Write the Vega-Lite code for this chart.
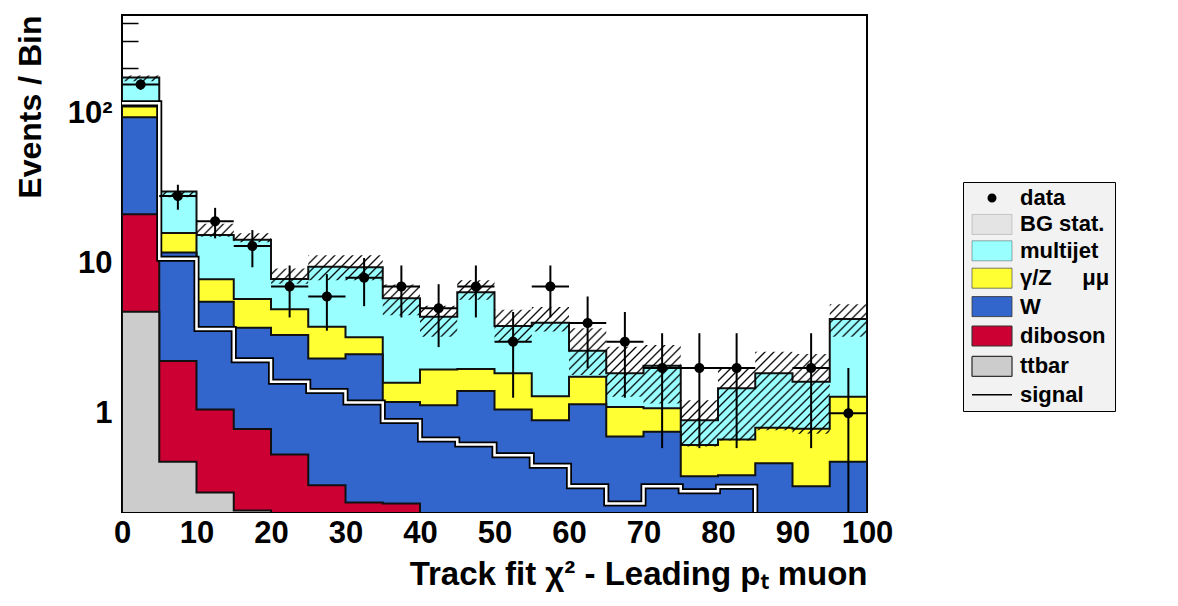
{
"$schema": "https://vega.github.io/schema/vega-lite/v6.json",
"width": 745, "height": 497,
"autosize": {"type": "none"},
"padding": {"left": 122, "top": 15, "right": 311, "bottom": 94},
"background": "white",
"config": {
  "view": {"stroke": "black", "strokeWidth": 2},
  "font": "Liberation Sans",
  "axis": {"grid": false, "domain": false, "labelFont": "Liberation Sans", "labelFontWeight": "bold", "labelFontSize": 31, "labelColor": "black", "titleFont": "Liberation Sans", "titleFontWeight": "bold", "titleFontSize": 32, "titleColor": "black"},
  "legend": {"orient": "none", "legendX": 841, "legendY": 167, "direction": "vertical", "padding": 5, "fillColor": "#f2f2f2", "strokeColor": "black", "labelFont": "Liberation Sans", "labelFontWeight": "bold", "labelFontSize": 22, "labelColor": "black", "labelOffset": 17, "rowPadding": 4.4, "labelLimit": 500, "symbolType": "M-2,-1H2V1H-2Z", "symbolSize": 400, "symbolOffset": 13, "symbolOpacity": 1}
},
"datasets": {
  "stack": [
    {"x0":0,"ttbar":4.75,"diboson":21.2,"W":93.9,"gz":110.5,"multijet":172.5,"signal":116.4,"bglo":163,"bghi":178},
    {"x0":5,"ttbar":0.475,"diboson":2.23,"W":11.8,"gz":15.9,"multijet":30.0,"signal":10.7,"bglo":27.5,"bghi":30.3},
    {"x0":10,"ttbar":0.297,"diboson":1.06,"W":5.54,"gz":7.81,"multijet":15.4,"signal":3.64,"bglo":15.0,"bghi":18.3},
    {"x0":15,"ttbar":0.225,"diboson":0.785,"W":3.72,"gz":5.77,"multijet":14.3,"signal":2.26,"bglo":13.8,"bghi":15.8},
    {"x0":20,"ttbar":0.01,"diboson":0.532,"W":3.32,"gz":4.93,"multijet":7.85,"signal":1.62,"bglo":7.3,"bghi":9.2},
    {"x0":25,"ttbar":0.01,"diboson":0.332,"W":2.32,"gz":3.77,"multijet":9.48,"signal":1.41,"bglo":7.7,"bghi":11.3},
    {"x0":30,"ttbar":0.01,"diboson":0.255,"W":2.47,"gz":3.21,"multijet":9.4,"signal":1.18,"bglo":7.7,"bghi":11.3},
    {"x0":35,"ttbar":0.01,"diboson":0.251,"W":1.19,"gz":1.60,"multijet":5.83,"signal":0.887,"bglo":4.5,"bghi":7.2},
    {"x0":40,"ttbar":0.01,"diboson":0.01,"W":1.13,"gz":1.96,"multijet":4.40,"signal":0.67,"bglo":3.23,"bghi":5.2},
    {"x0":45,"ttbar":0.01,"diboson":0.01,"W":1.41,"gz":1.97,"multijet":6.40,"signal":0.62,"bglo":5.7,"bghi":7.7},
    {"x0":50,"ttbar":0.01,"diboson":0.01,"W":1.06,"gz":1.85,"multijet":3.81,"signal":0.526,"bglo":3.0,"bghi":4.9},
    {"x0":55,"ttbar":0.01,"diboson":0.01,"W":0.90,"gz":1.30,"multijet":4.01,"signal":0.447,"bglo":3.5,"bghi":5.1},
    {"x0":60,"ttbar":0.01,"diboson":0.01,"W":1.15,"gz":1.75,"multijet":2.61,"signal":0.326,"bglo":1.80,"bghi":3.68},
    {"x0":65,"ttbar":0.01,"diboson":0.01,"W":0.70,"gz":1.10,"multijet":1.85,"signal":0.251,"bglo":1.29,"bghi":2.78},
    {"x0":70,"ttbar":0.01,"diboson":0.01,"W":0.753,"gz":1.08,"multijet":2.07,"signal":0.327,"bglo":1.16,"bghi":2.85},
    {"x0":75,"ttbar":0.01,"diboson":0.01,"W":0.381,"gz":0.614,"multijet":0.90,"signal":0.303,"bglo":0.60,"bghi":1.22},
    {"x0":80,"ttbar":0.01,"diboson":0.01,"W":0.387,"gz":0.67,"multijet":1.47,"signal":0.324,"bglo":0.66,"bghi":1.99},
    {"x0":85,"ttbar":0.01,"diboson":0.01,"W":0.464,"gz":0.80,"multijet":1.85,"signal":0.01,"bglo":0.77,"bghi":2.57},
    {"x0":90,"ttbar":0.01,"diboson":0.01,"W":0.327,"gz":0.79,"multijet":1.62,"signal":0.01,"bglo":0.73,"bghi":2.48},
    {"x0":95,"ttbar":0.01,"diboson":0.01,"W":0.475,"gz":1.29,"multijet":4.25,"signal":0.01,"bglo":3.23,"bghi":5.33},
    {"x0":100,"ttbar":0.01,"diboson":0.01,"W":0.475,"gz":1.29,"multijet":4.25,"signal":0.01,"bglo":3.23,"bghi":5.33}
  ],
  "obs": [
    {"xc":2.5,"x0":0,"x1":5,"n":155,"lo":142.5,"hi":167.5},
    {"xc":7.5,"x0":5,"x1":10,"n":28,"lo":22.7,"hi":33.3},
    {"xc":12.5,"x0":10,"x1":15,"n":19,"lo":14.64,"hi":23.36},
    {"xc":17.5,"x0":15,"x1":20,"n":13,"lo":9.39,"hi":16.61},
    {"xc":22.5,"x0":20,"x1":25,"n":7,"lo":4.35,"hi":9.65},
    {"xc":27.5,"x0":25,"x1":30,"n":6,"lo":3.55,"hi":8.45},
    {"xc":32.5,"x0":30,"x1":35,"n":8,"lo":5.17,"hi":10.83},
    {"xc":37.5,"x0":35,"x1":40,"n":7,"lo":4.35,"hi":9.65},
    {"xc":42.5,"x0":40,"x1":45,"n":5,"lo":2.76,"hi":7.24},
    {"xc":47.5,"x0":45,"x1":50,"n":7,"lo":4.35,"hi":9.65},
    {"xc":52.5,"x0":50,"x1":55,"n":3,"lo":1.27,"hi":4.73},
    {"xc":57.5,"x0":55,"x1":60,"n":7,"lo":4.35,"hi":9.65},
    {"xc":62.5,"x0":60,"x1":65,"n":4,"lo":2,"hi":6},
    {"xc":67.5,"x0":65,"x1":70,"n":3,"lo":1.27,"hi":4.73},
    {"xc":72.5,"x0":70,"x1":75,"n":2,"lo":0.586,"hi":3.414},
    {"xc":77.5,"x0":75,"x1":80,"n":2,"lo":0.586,"hi":3.414},
    {"xc":82.5,"x0":80,"x1":85,"n":2,"lo":0.586,"hi":3.414},
    {"xc":92.5,"x0":90,"x1":95,"n":2,"lo":0.586,"hi":3.414},
    {"xc":97.5,"x0":95,"x1":100,"n":1,"lo":0.001,"hi":2}
  ]
},
"layer": [
  {
    "data": {"name": "stack"},
    "mark": {"type": "area", "interpolate": "step-after", "clip": true, "stroke": "#111", "strokeWidth": 2, "fillOpacity": 1},
    "encoding": {
      "x": {"field": "x0", "type": "quantitative", "scale": {"domain": [0, 100], "nice": false, "zero": false},
        "axis": {"values": [0,10,20,30,40,50,60,70,80,90,100], "ticks": false, "labelPadding": 6, "labelFlush": false, "labelOverlap": false, "title": "Track fit χ² - Leading pₜ muon", "titleAnchor": "end", "titlePadding": 10, "titleFontSize": 33}},
      "y": {"field": "multijet", "type": "quantitative", "scale": {"type": "log", "domain": [0.22, 450], "nice": false},
        "axis": {"values": [0.3,0.4,0.5,0.6,0.7,0.8,0.9,1,2,3,4,5,6,7,8,9,10,20,30,40,50,60,70,80,90,100,200,300,400], "labelExpr": "datum.value == 1 ? '1' : datum.value == 10 ? '10' : datum.value == 100 ? '10²' : ''", "tickSize": -16, "tickColor": "black", "tickWidth": 1.5, "labelPadding": 26, "labelOverlap": false, "title": "Events / Bin", "titleAnchor": "end", "titlePadding": 20}},
      "y2": {"datum": 0.01},
      "color": {"datum": "multijet", "type": "nominal",
        "scale": {"domain": ["data", "BG stat.\u00a0\u00a0\u00a0\u00a0\u00a0\u00a0\u00a0\u00a0\u00a0\u00a0\u00a0\u00a0\u00a0\u00a0", "multijet", "γ/Z\u00a0\u00a0\u00a0\u00a0\u00a0μμ", "W", "diboson", "ttbar", "signal"],
                  "range": ["black", "#e4e4e4", "#99ffff", "#ffff33", "#3366cc", "#cc0033", "#cccccc", "transparent"]},
        "legend": {"title": null}
      }
    }
  },
  {
    "data": {"name": "stack"},
    "mark": {"type": "area", "interpolate": "step-after", "clip": true, "fill": "#ffff33", "stroke": "#111", "strokeWidth": 2, "fillOpacity": 1},
    "encoding": {
      "x": {"field": "x0", "type": "quantitative"},
      "y": {"field": "gz", "type": "quantitative"},
      "y2": {"datum": 0.01}
    }
  },
  {
    "data": {"name": "stack"},
    "mark": {"type": "area", "interpolate": "step-after", "clip": true, "fill": "#3366cc", "stroke": "#111", "strokeWidth": 2, "fillOpacity": 1},
    "encoding": {
      "x": {"field": "x0", "type": "quantitative"},
      "y": {"field": "W", "type": "quantitative"},
      "y2": {"datum": 0.01}
    }
  },
  {
    "data": {"name": "stack"},
    "mark": {"type": "area", "interpolate": "step-after", "clip": true, "fill": "#cc0033", "stroke": "#111", "strokeWidth": 2, "fillOpacity": 1},
    "encoding": {
      "x": {"field": "x0", "type": "quantitative"},
      "y": {"field": "diboson", "type": "quantitative"},
      "y2": {"datum": 0.01}
    }
  },
  {
    "data": {"name": "stack"},
    "mark": {"type": "area", "interpolate": "step-after", "clip": true, "fill": "#cccccc", "stroke": "#111", "strokeWidth": 2, "fillOpacity": 1},
    "encoding": {
      "x": {"field": "x0", "type": "quantitative"},
      "y": {"field": "ttbar", "type": "quantitative"},
      "y2": {"datum": 0.01}
    }
  },
  {
    "data": {"name": "stack"},
    "mark": {"type": "line", "interpolate": "step-after", "clip": true, "strokeWidth": 6},
    "encoding": {
      "x": {"field": "x0", "type": "quantitative"},
      "y": {"field": "signal", "type": "quantitative"},
      "stroke": {"datum": "signal", "type": "nominal",
        "scale": {"domain": ["data", "BG stat.\u00a0\u00a0\u00a0\u00a0\u00a0\u00a0\u00a0\u00a0\u00a0\u00a0\u00a0\u00a0\u00a0\u00a0", "multijet", "γ/Z\u00a0\u00a0\u00a0\u00a0\u00a0μμ", "W", "diboson", "ttbar", "signal"],
                  "range": ["transparent", "#333333", "#333333", "#333333", "#333333", "#333333", "#333333", "black"]},
        "legend": {"title": null}
      },
      "strokeDash": {"datum": "signal", "type": "nominal",
        "scale": {"domain": ["data", "BG stat.\u00a0\u00a0\u00a0\u00a0\u00a0\u00a0\u00a0\u00a0\u00a0\u00a0\u00a0\u00a0\u00a0\u00a0", "multijet", "γ/Z\u00a0\u00a0\u00a0\u00a0\u00a0μμ", "W", "diboson", "ttbar", "signal"],
                  "range": [[1,0],[1,0],[1,0],[1,0],[1,0],[1,0],[1,0],[1,0]]},
        "legend": {"title": null}
      }
    }
  },
  {
    "data": {"name": "stack"},
    "mark": {"type": "line", "interpolate": "step-after", "clip": true, "stroke": "white", "strokeWidth": 2.5},
    "encoding": {
      "x": {"field": "x0", "type": "quantitative"},
      "y": {"field": "signal", "type": "quantitative"}
    }
  },
  {
    "data": {"name": "stack"},
    "mark": {"type": "area", "interpolate": "step-after", "clip": true, "strokeWidth": 0,
      "fill": {"gradient": "linear", "x1": 0, "y1": 0, "x2": 1.2, "y2": 0.598, "stops": [
{"offset":0,"color":"#000"},{"offset":0.0016,"color":"transparent"},{"offset":0.0064,"color":"transparent"},
{"offset":0.008,"color":"#000"},{"offset":0.0096,"color":"transparent"},{"offset":0.0144,"color":"transparent"},
{"offset":0.016,"color":"#000"},{"offset":0.0176,"color":"transparent"},{"offset":0.0224,"color":"transparent"},
{"offset":0.024,"color":"#000"},{"offset":0.0256,"color":"transparent"},{"offset":0.0304,"color":"transparent"},
{"offset":0.032,"color":"#000"},{"offset":0.0336,"color":"transparent"},{"offset":0.0384,"color":"transparent"},
{"offset":0.04,"color":"#000"},{"offset":0.0416,"color":"transparent"},{"offset":0.0464,"color":"transparent"},
{"offset":0.048,"color":"#000"},{"offset":0.0496,"color":"transparent"},{"offset":0.0544,"color":"transparent"},
{"offset":0.056,"color":"#000"},{"offset":0.0576,"color":"transparent"},{"offset":0.0624,"color":"transparent"},
{"offset":0.064,"color":"#000"},{"offset":0.0656,"color":"transparent"},{"offset":0.0704,"color":"transparent"},
{"offset":0.072,"color":"#000"},{"offset":0.0736,"color":"transparent"},{"offset":0.0784,"color":"transparent"},
{"offset":0.08,"color":"#000"},{"offset":0.0816,"color":"transparent"},{"offset":0.0864,"color":"transparent"},
{"offset":0.088,"color":"#000"},{"offset":0.0896,"color":"transparent"},{"offset":0.0944,"color":"transparent"},
{"offset":0.096,"color":"#000"},{"offset":0.0976,"color":"transparent"},{"offset":0.1024,"color":"transparent"},
{"offset":0.104,"color":"#000"},{"offset":0.1056,"color":"transparent"},{"offset":0.1104,"color":"transparent"},
{"offset":0.112,"color":"#000"},{"offset":0.1136,"color":"transparent"},{"offset":0.1184,"color":"transparent"},
{"offset":0.12,"color":"#000"},{"offset":0.1216,"color":"transparent"},{"offset":0.1264,"color":"transparent"},
{"offset":0.128,"color":"#000"},{"offset":0.1296,"color":"transparent"},{"offset":0.1344,"color":"transparent"},
{"offset":0.136,"color":"#000"},{"offset":0.1376,"color":"transparent"},{"offset":0.1424,"color":"transparent"},
{"offset":0.144,"color":"#000"},{"offset":0.1456,"color":"transparent"},{"offset":0.1504,"color":"transparent"},
{"offset":0.152,"color":"#000"},{"offset":0.1536,"color":"transparent"},{"offset":0.1584,"color":"transparent"},
{"offset":0.16,"color":"#000"},{"offset":0.1616,"color":"transparent"},{"offset":0.1664,"color":"transparent"},
{"offset":0.168,"color":"#000"},{"offset":0.1696,"color":"transparent"},{"offset":0.1744,"color":"transparent"},
{"offset":0.176,"color":"#000"},{"offset":0.1776,"color":"transparent"},{"offset":0.1824,"color":"transparent"},
{"offset":0.184,"color":"#000"},{"offset":0.1856,"color":"transparent"},{"offset":0.1904,"color":"transparent"},
{"offset":0.192,"color":"#000"},{"offset":0.1936,"color":"transparent"},{"offset":0.1984,"color":"transparent"},
{"offset":0.2,"color":"#000"},{"offset":0.2016,"color":"transparent"},{"offset":0.2064,"color":"transparent"},
{"offset":0.208,"color":"#000"},{"offset":0.2096,"color":"transparent"},{"offset":0.2144,"color":"transparent"},
{"offset":0.216,"color":"#000"},{"offset":0.2176,"color":"transparent"},{"offset":0.2224,"color":"transparent"},
{"offset":0.224,"color":"#000"},{"offset":0.2256,"color":"transparent"},{"offset":0.2304,"color":"transparent"},
{"offset":0.232,"color":"#000"},{"offset":0.2336,"color":"transparent"},{"offset":0.2384,"color":"transparent"},
{"offset":0.24,"color":"#000"},{"offset":0.2416,"color":"transparent"},{"offset":0.2464,"color":"transparent"},
{"offset":0.248,"color":"#000"},{"offset":0.2496,"color":"transparent"},{"offset":0.2544,"color":"transparent"},
{"offset":0.256,"color":"#000"},{"offset":0.2576,"color":"transparent"},{"offset":0.2624,"color":"transparent"},
{"offset":0.264,"color":"#000"},{"offset":0.2656,"color":"transparent"},{"offset":0.2704,"color":"transparent"},
{"offset":0.272,"color":"#000"},{"offset":0.2736,"color":"transparent"},{"offset":0.2784,"color":"transparent"},
{"offset":0.28,"color":"#000"},{"offset":0.2816,"color":"transparent"},{"offset":0.2864,"color":"transparent"},
{"offset":0.288,"color":"#000"},{"offset":0.2896,"color":"transparent"},{"offset":0.2944,"color":"transparent"},
{"offset":0.296,"color":"#000"},{"offset":0.2976,"color":"transparent"},{"offset":0.3024,"color":"transparent"},
{"offset":0.304,"color":"#000"},{"offset":0.3056,"color":"transparent"},{"offset":0.3104,"color":"transparent"},
{"offset":0.312,"color":"#000"},{"offset":0.3136,"color":"transparent"},{"offset":0.3184,"color":"transparent"},
{"offset":0.32,"color":"#000"},{"offset":0.3216,"color":"transparent"},{"offset":0.3264,"color":"transparent"},
{"offset":0.328,"color":"#000"},{"offset":0.3296,"color":"transparent"},{"offset":0.3344,"color":"transparent"},
{"offset":0.336,"color":"#000"},{"offset":0.3376,"color":"transparent"},{"offset":0.3424,"color":"transparent"},
{"offset":0.344,"color":"#000"},{"offset":0.3456,"color":"transparent"},{"offset":0.3504,"color":"transparent"},
{"offset":0.352,"color":"#000"},{"offset":0.3536,"color":"transparent"},{"offset":0.3584,"color":"transparent"},
{"offset":0.36,"color":"#000"},{"offset":0.3616,"color":"transparent"},{"offset":0.3664,"color":"transparent"},
{"offset":0.368,"color":"#000"},{"offset":0.3696,"color":"transparent"},{"offset":0.3744,"color":"transparent"},
{"offset":0.376,"color":"#000"},{"offset":0.3776,"color":"transparent"},{"offset":0.3824,"color":"transparent"},
{"offset":0.384,"color":"#000"},{"offset":0.3856,"color":"transparent"},{"offset":0.3904,"color":"transparent"},
{"offset":0.392,"color":"#000"},{"offset":0.3936,"color":"transparent"},{"offset":0.3984,"color":"transparent"},
{"offset":0.4,"color":"#000"},{"offset":0.4016,"color":"transparent"},{"offset":0.4064,"color":"transparent"},
{"offset":0.408,"color":"#000"},{"offset":0.4096,"color":"transparent"},{"offset":0.4144,"color":"transparent"},
{"offset":0.416,"color":"#000"},{"offset":0.4176,"color":"transparent"},{"offset":0.4224,"color":"transparent"},
{"offset":0.424,"color":"#000"},{"offset":0.4256,"color":"transparent"},{"offset":0.4304,"color":"transparent"},
{"offset":0.432,"color":"#000"},{"offset":0.4336,"color":"transparent"},{"offset":0.4384,"color":"transparent"},
{"offset":0.44,"color":"#000"},{"offset":0.4416,"color":"transparent"},{"offset":0.4464,"color":"transparent"},
{"offset":0.448,"color":"#000"},{"offset":0.4496,"color":"transparent"},{"offset":0.4544,"color":"transparent"},
{"offset":0.456,"color":"#000"},{"offset":0.4576,"color":"transparent"},{"offset":0.4624,"color":"transparent"},
{"offset":0.464,"color":"#000"},{"offset":0.4656,"color":"transparent"},{"offset":0.4704,"color":"transparent"},
{"offset":0.472,"color":"#000"},{"offset":0.4736,"color":"transparent"},{"offset":0.4784,"color":"transparent"},
{"offset":0.48,"color":"#000"},{"offset":0.4816,"color":"transparent"},{"offset":0.4864,"color":"transparent"},
{"offset":0.488,"color":"#000"},{"offset":0.4896,"color":"transparent"},{"offset":0.4944,"color":"transparent"},
{"offset":0.496,"color":"#000"},{"offset":0.4976,"color":"transparent"},{"offset":0.5024,"color":"transparent"},
{"offset":0.504,"color":"#000"},{"offset":0.5056,"color":"transparent"},{"offset":0.5104,"color":"transparent"},
{"offset":0.512,"color":"#000"},{"offset":0.5136,"color":"transparent"},{"offset":0.5184,"color":"transparent"},
{"offset":0.52,"color":"#000"},{"offset":0.5216,"color":"transparent"},{"offset":0.5264,"color":"transparent"},
{"offset":0.528,"color":"#000"},{"offset":0.5296,"color":"transparent"},{"offset":0.5344,"color":"transparent"},
{"offset":0.536,"color":"#000"},{"offset":0.5376,"color":"transparent"},{"offset":0.5424,"color":"transparent"},
{"offset":0.544,"color":"#000"},{"offset":0.5456,"color":"transparent"},{"offset":0.5504,"color":"transparent"},
{"offset":0.552,"color":"#000"},{"offset":0.5536,"color":"transparent"},{"offset":0.5584,"color":"transparent"},
{"offset":0.56,"color":"#000"},{"offset":0.5616,"color":"transparent"},{"offset":0.5664,"color":"transparent"},
{"offset":0.568,"color":"#000"},{"offset":0.5696,"color":"transparent"},{"offset":0.5744,"color":"transparent"},
{"offset":0.576,"color":"#000"},{"offset":0.5776,"color":"transparent"},{"offset":0.5824,"color":"transparent"},
{"offset":0.584,"color":"#000"},{"offset":0.5856,"color":"transparent"},{"offset":0.5904,"color":"transparent"},
{"offset":0.592,"color":"#000"},{"offset":0.5936,"color":"transparent"},{"offset":0.5984,"color":"transparent"},
{"offset":0.6,"color":"#000"},{"offset":0.6016,"color":"transparent"},{"offset":0.6064,"color":"transparent"},
{"offset":0.608,"color":"#000"},{"offset":0.6096,"color":"transparent"},{"offset":0.6144,"color":"transparent"},
{"offset":0.616,"color":"#000"},{"offset":0.6176,"color":"transparent"},{"offset":0.6224,"color":"transparent"},
{"offset":0.624,"color":"#000"},{"offset":0.6256,"color":"transparent"},{"offset":0.6304,"color":"transparent"},
{"offset":0.632,"color":"#000"},{"offset":0.6336,"color":"transparent"},{"offset":0.6384,"color":"transparent"},
{"offset":0.64,"color":"#000"},{"offset":0.6416,"color":"transparent"},{"offset":0.6464,"color":"transparent"},
{"offset":0.648,"color":"#000"},{"offset":0.6496,"color":"transparent"},{"offset":0.6544,"color":"transparent"},
{"offset":0.656,"color":"#000"},{"offset":0.6576,"color":"transparent"},{"offset":0.6624,"color":"transparent"},
{"offset":0.664,"color":"#000"},{"offset":0.6656,"color":"transparent"},{"offset":0.6704,"color":"transparent"},
{"offset":0.672,"color":"#000"},{"offset":0.6736,"color":"transparent"},{"offset":0.6784,"color":"transparent"},
{"offset":0.68,"color":"#000"},{"offset":0.6816,"color":"transparent"},{"offset":0.6864,"color":"transparent"},
{"offset":0.688,"color":"#000"},{"offset":0.6896,"color":"transparent"},{"offset":0.6944,"color":"transparent"},
{"offset":0.696,"color":"#000"},{"offset":0.6976,"color":"transparent"},{"offset":0.7024,"color":"transparent"},
{"offset":0.704,"color":"#000"},{"offset":0.7056,"color":"transparent"},{"offset":0.7104,"color":"transparent"},
{"offset":0.712,"color":"#000"},{"offset":0.7136,"color":"transparent"},{"offset":0.7184,"color":"transparent"},
{"offset":0.72,"color":"#000"},{"offset":0.7216,"color":"transparent"},{"offset":0.7264,"color":"transparent"},
{"offset":0.728,"color":"#000"},{"offset":0.7296,"color":"transparent"},{"offset":0.7344,"color":"transparent"},
{"offset":0.736,"color":"#000"},{"offset":0.7376,"color":"transparent"},{"offset":0.7424,"color":"transparent"},
{"offset":0.744,"color":"#000"},{"offset":0.7456,"color":"transparent"},{"offset":0.7504,"color":"transparent"},
{"offset":0.752,"color":"#000"},{"offset":0.7536,"color":"transparent"},{"offset":0.7584,"color":"transparent"},
{"offset":0.76,"color":"#000"},{"offset":0.7616,"color":"transparent"},{"offset":0.7664,"color":"transparent"},
{"offset":0.768,"color":"#000"},{"offset":0.7696,"color":"transparent"},{"offset":0.7744,"color":"transparent"},
{"offset":0.776,"color":"#000"},{"offset":0.7776,"color":"transparent"},{"offset":0.7824,"color":"transparent"},
{"offset":0.784,"color":"#000"},{"offset":0.7856,"color":"transparent"},{"offset":0.7904,"color":"transparent"},
{"offset":0.792,"color":"#000"},{"offset":0.7936,"color":"transparent"},{"offset":0.7984,"color":"transparent"},
{"offset":0.8,"color":"#000"},{"offset":0.8016,"color":"transparent"},{"offset":0.8064,"color":"transparent"},
{"offset":0.808,"color":"#000"},{"offset":0.8096,"color":"transparent"},{"offset":0.8144,"color":"transparent"},
{"offset":0.816,"color":"#000"},{"offset":0.8176,"color":"transparent"},{"offset":0.8224,"color":"transparent"},
{"offset":0.824,"color":"#000"},{"offset":0.8256,"color":"transparent"},{"offset":0.8304,"color":"transparent"},
{"offset":0.832,"color":"#000"},{"offset":0.8336,"color":"transparent"},{"offset":0.8384,"color":"transparent"},
{"offset":0.84,"color":"#000"},{"offset":0.8416,"color":"transparent"},{"offset":0.8464,"color":"transparent"},
{"offset":0.848,"color":"#000"},{"offset":0.8496,"color":"transparent"},{"offset":0.8544,"color":"transparent"},
{"offset":0.856,"color":"#000"},{"offset":0.8576,"color":"transparent"},{"offset":0.8624,"color":"transparent"},
{"offset":0.864,"color":"#000"},{"offset":0.8656,"color":"transparent"},{"offset":0.8704,"color":"transparent"},
{"offset":0.872,"color":"#000"},{"offset":0.8736,"color":"transparent"},{"offset":0.8784,"color":"transparent"},
{"offset":0.88,"color":"#000"},{"offset":0.8816,"color":"transparent"},{"offset":0.8864,"color":"transparent"},
{"offset":0.888,"color":"#000"},{"offset":0.8896,"color":"transparent"},{"offset":0.8944,"color":"transparent"},
{"offset":0.896,"color":"#000"},{"offset":0.8976,"color":"transparent"},{"offset":0.9024,"color":"transparent"},
{"offset":0.904,"color":"#000"},{"offset":0.9056,"color":"transparent"},{"offset":0.9104,"color":"transparent"},
{"offset":0.912,"color":"#000"},{"offset":0.9136,"color":"transparent"},{"offset":0.9184,"color":"transparent"},
{"offset":0.92,"color":"#000"},{"offset":0.9216,"color":"transparent"},{"offset":0.9264,"color":"transparent"},
{"offset":0.928,"color":"#000"},{"offset":0.9296,"color":"transparent"},{"offset":0.9344,"color":"transparent"},
{"offset":0.936,"color":"#000"},{"offset":0.9376,"color":"transparent"},{"offset":0.9424,"color":"transparent"},
{"offset":0.944,"color":"#000"},{"offset":0.9456,"color":"transparent"},{"offset":0.9504,"color":"transparent"},
{"offset":0.952,"color":"#000"},{"offset":0.9536,"color":"transparent"},{"offset":0.9584,"color":"transparent"},
{"offset":0.96,"color":"#000"},{"offset":0.9616,"color":"transparent"},{"offset":0.9664,"color":"transparent"},
{"offset":0.968,"color":"#000"},{"offset":0.9696,"color":"transparent"},{"offset":0.9744,"color":"transparent"},
{"offset":0.976,"color":"#000"},{"offset":0.9776,"color":"transparent"},{"offset":0.9824,"color":"transparent"},
{"offset":0.984,"color":"#000"},{"offset":0.9856,"color":"transparent"},{"offset":0.9904,"color":"transparent"},
{"offset":0.992,"color":"#000"},{"offset":0.9936,"color":"transparent"},{"offset":0.9984,"color":"transparent"},
{"offset":1,"color":"#000"}]}},
    "encoding": {
      "x": {"field": "x0", "type": "quantitative"},
      "y": {"field": "bghi", "type": "quantitative"},
      "y2": {"field": "bglo"},
      "strokeWidth": {"datum": "BG stat.\u00a0\u00a0\u00a0\u00a0\u00a0\u00a0\u00a0\u00a0\u00a0\u00a0\u00a0\u00a0\u00a0\u00a0", "type": "nominal",
        "scale": {"domain": ["data", "BG stat.\u00a0\u00a0\u00a0\u00a0\u00a0\u00a0\u00a0\u00a0\u00a0\u00a0\u00a0\u00a0\u00a0\u00a0", "multijet", "γ/Z\u00a0\u00a0\u00a0\u00a0\u00a0μμ", "W", "diboson", "ttbar", "signal"],
                  "range": [0, 1.5, 1.5, 1.5, 1.5, 1.5, 1.5, 3.5]},
        "legend": {"title": null}
      }
    }
  },
  {
    "data": {"name": "obs"},
    "mark": {"type": "rule", "clip": true, "stroke": "black", "strokeWidth": 2},
    "encoding": {
      "x": {"field": "xc", "type": "quantitative"},
      "y": {"field": "lo", "type": "quantitative"},
      "y2": {"field": "hi"}
    }
  },
  {
    "data": {"name": "obs"},
    "mark": {"type": "rule", "clip": true, "stroke": "black", "strokeWidth": 2},
    "encoding": {
      "x": {"field": "x0", "type": "quantitative"},
      "x2": {"field": "x1"},
      "y": {"field": "n", "type": "quantitative"}
    }
  },
  {
    "data": {"name": "obs"},
    "mark": {"type": "point", "filled": true, "clip": true, "size": 494, "opacity": 1, "color": "black", "strokeWidth": 0},
    "encoding": {
      "x": {"field": "xc", "type": "quantitative"},
      "y": {"field": "n", "type": "quantitative"},
      "shape": {"datum": "data", "type": "nominal",
        "scale": {"domain": ["data", "BG stat.\u00a0\u00a0\u00a0\u00a0\u00a0\u00a0\u00a0\u00a0\u00a0\u00a0\u00a0\u00a0\u00a0\u00a0", "multijet", "γ/Z\u00a0\u00a0\u00a0\u00a0\u00a0μμ", "W", "diboson", "ttbar", "signal"],
                  "range": ["M0.45,0A0.45,0.45,0,1,1,-0.45,0A0.45,0.45,0,1,1,0.45,0Z", "M-2,-1H2V1H-2Z", "M-2,-1H2V1H-2Z", "M-2,-1H2V1H-2Z", "M-2,-1H2V1H-2Z", "M-2,-1H2V1H-2Z", "M-2,-1H2V1H-2Z", "M-2,0H2"]},
        "legend": {"title": null}
      }
    }
  }
]
}
